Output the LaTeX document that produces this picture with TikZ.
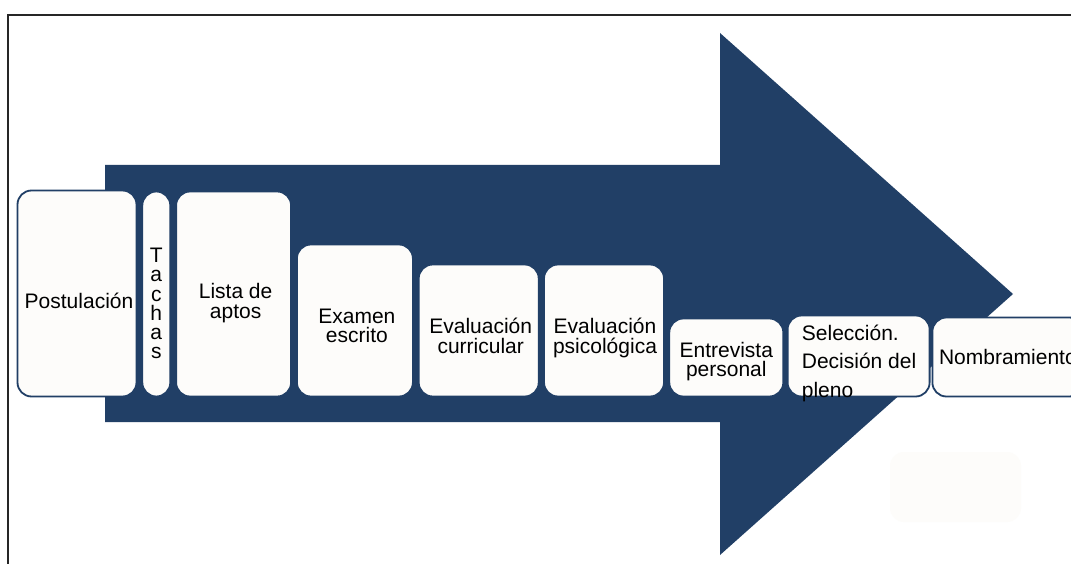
\documentclass[tikz,border=0pt]{standalone}
\usepackage{fontspec}
\setmainfont{Liberation Sans}
\usetikzlibrary{positioning}
\definecolor{navy}{RGB}{33,63,102}
\definecolor{paper}{RGB}{253,252,250}
\tikzstyle{stage} = [rectangle, rounded corners=14pt, draw=navy, line width=1.8pt, fill=paper, inner sep=0pt]
\tikzstyle{stagetext} = [inner sep=0pt, align=center, font=\fontsize{21}{19.5}\selectfont]

\begin{document}
\begin{tikzpicture}[x=1pt, y=1pt]
    \useasboundingbox (0,0) rectangle (1071,563);
    \fill[white] (0,0) rectangle (1071,563);

    % frame and big arrow
    \draw[black!85, line width=2pt] (8,-10) -- (8,548) -- (1080,548);
    \fill[navy] (105,141) -- (105,398) -- (720,398) -- (720,530) -- (1013,269) -- (720,8) -- (720,141) -- cycle;

    \node (BLANK) [stage, draw=none, minimum width=131pt, minimum height=70pt] at (955.5,76) {};

    \node (POST) [stage, minimum width=119pt, minimum height=206pt] at (77,269.5) {};
    \node (TACHAS) [stage, minimum width=28pt, minimum height=205pt, right=4pt of POST.south east, anchor=south west] {};
    \node (LISTA) [stage, minimum width=115pt, minimum height=205pt, right=4pt of TACHAS.south east, anchor=south west] {};
    \node (EXAMEN) [stage, minimum width=116pt, minimum height=152pt, right=4pt of LISTA.south east, anchor=south west] {};
    \node (CURRICULAR) [stage, minimum width=120pt, minimum height=132pt, right=4pt of EXAMEN.south east, anchor=south west] {};
    \node (PSICO) [stage, minimum width=120pt, minimum height=132pt, right=3.5pt of CURRICULAR.south east, anchor=south west] {};
    \node (ENTREVISTA) [stage, minimum width=114pt, minimum height=78pt, right=3.5pt of PSICO.south east, anchor=south west] {};
    \node (SELECCION) [stage, minimum width=142pt, minimum height=81pt, right=2.5pt of ENTREVISTA.south east, anchor=south west] {};
    \node (NOMBRA) [stage, minimum width=151pt, minimum height=79pt, right=1pt of SELECCION.south east, anchor=south west] {};

    \node (POSTTXT) [stagetext] at ([xshift=2pt, yshift=-7pt]POST.center) {Postulación};
    \node (TACHASTXT) [stagetext, font=\fontsize{21}{19.2}\selectfont] at ([yshift=-9.5pt]TACHAS.center) {T\\a\\c\\h\\a\\s};
    \node (LISTATXT) [stagetext, font=\fontsize{21}{20}\selectfont] at ([xshift=2pt, yshift=-9.5pt]LISTA.center) {Lista de\\aptos};
    \node (EXAMENTXT) [stagetext] at ([xshift=2pt, yshift=-5.4pt]EXAMEN.center) {Examen\\escrito};
    \node (CURRICULARTXT) [stagetext] at ([xshift=2pt, yshift=-5.4pt]CURRICULAR.center) {Evaluación\\curricular};
    \node (PSICOTXT) [stagetext] at ([xshift=1pt, yshift=-7.6pt]PSICO.center) {Evaluación\\psicológica};
    \node (ENTREVISTATXT) [stagetext] at ([yshift=-4pt]ENTREVISTA.center) {Entrevista\\personal};
    \node (SELECCIONTXT) [stagetext, align=left, anchor=west, font=\fontsize{21}{28.5}\selectfont] at ([xshift=15pt, yshift=-7pt]SELECCION.west) {Selección.\\Decisión del\\pleno};
    \node (NOMBRATXT) [stagetext] at ([yshift=-0.4pt]NOMBRA.center) {Nombramiento};

\end{tikzpicture}
\end{document}
